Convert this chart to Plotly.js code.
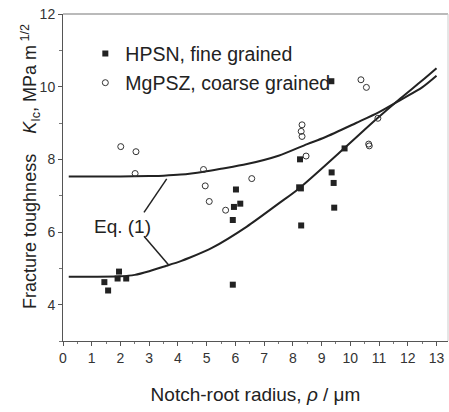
<!DOCTYPE html>
<html>
<head>
<meta charset="utf-8">
<script src="https://cdn.plot.ly/plotly-3.0.1.min.js"></script>
<style>html,body{margin:0;padding:0;background:#fff;}#chart{width:449px;height:412px;}</style>
</head>
<body>
<div id="chart"></div>
<script>
// HPSN, fine grained (filled squares)
const hpsnX = [1.44, 1.57, 1.90, 1.95, 2.20, 5.91, 5.91, 5.95, 6.02, 6.17, 8.22, 8.25, 8.28, 8.29, 9.34, 9.35, 9.42, 9.44, 9.80];
const hpsnY = [4.62, 4.39, 4.72, 4.91, 4.72, 4.55, 6.33, 6.69, 7.17, 6.78, 7.23, 8.00, 7.20, 6.18, 10.15, 7.64, 7.35, 6.67, 8.30];
// MgPSZ, coarse grained (open circles)
const mgpszX = [2.01, 2.54, 2.51, 4.89, 4.95, 5.09, 5.66, 6.57, 8.32, 8.29, 8.32, 8.46, 10.37, 10.56, 10.64, 10.66, 10.96];
const mgpszY = [8.35, 8.21, 7.61, 7.72, 7.27, 6.84, 6.60, 7.47, 8.95, 8.77, 8.63, 8.09, 10.19, 9.98, 8.42, 8.37, 9.13];
// Eq. (1) curves
const upperX = [0.2, 1, 2, 3, 3.5, 4.1, 4.9, 5.5, 6.4, 7.5, 8.5, 9.1, 10.2, 11.0, 11.8, 12.5, 13.0];
const upperY = [7.53, 7.53, 7.53, 7.54, 7.55, 7.58, 7.66, 7.74, 7.87, 8.10, 8.42, 8.60, 9.00, 9.30, 9.66, 9.98, 10.30];
const lowerX = [0.2, 1, 2, 2.5, 3, 3.6, 4.1, 4.4, 5.2, 6.4, 7.5, 8.25, 9.8, 10.9, 11.75, 12.5, 13.0];
const lowerY = [4.77, 4.77, 4.78, 4.82, 4.92, 5.07, 5.20, 5.29, 5.57, 6.15, 6.78, 7.22, 8.31, 9.10, 9.68, 10.17, 10.51];
// labels
const legendNames = ['HPSN, fine grained', 'MgPSZ, coarse grained'];
const xTitle = 'Notch-root radius, <i>\u03c1</i> / \u03bcm';
const yTitle = 'Fracture toughness\u00a0\u00a0\u00a0\u00a0<i>K</i><sub>Ic</sub>, MPa m<sup> 1/2</sup>';
const eqLabel = 'Eq. (1)';

const font = 'Liberation Sans, Arial, sans-serif';
const ink = '#222';

const traces = [
  {x: upperX, y: upperY, mode: 'lines', line: {color: ink, width: 2, shape: 'spline', smoothing: 0.8}, showlegend: false, hoverinfo: 'skip'},
  {x: lowerX, y: lowerY, mode: 'lines', line: {color: ink, width: 2, shape: 'spline', smoothing: 0.8}, showlegend: false, hoverinfo: 'skip'},
  {x: hpsnX, y: hpsnY, mode: 'markers', name: legendNames[0], legend: 'legend',
   marker: {symbol: 'square', size: 6, color: ink, line: {width: 0}}},
  {x: mgpszX, y: mgpszY, mode: 'markers', name: legendNames[1], legend: 'legend2',
   marker: {symbol: 'circle-open', size: 6, color: '#333', line: {width: 1, color: '#333'}}}
];

const legendBase = {
  font: {family: font, size: 19.5, color: ink},
  bgcolor: 'rgba(0,0,0,0)', borderwidth: 0,
  xanchor: 'left', yanchor: 'middle', itemwidth: 30
};

const layout = {
  width: 449, height: 412,
  margin: {l: 63, r: 1, t: 14, b: 71},
  paper_bgcolor: '#fff', plot_bgcolor: '#fff',
  font: {family: font, color: '#333'},
  xaxis: {
    range: [0, 13.4], dtick: 1, tick0: 0,
    showgrid: false, zeroline: false,
    showline: true, linecolor: '#555', linewidth: 1,
    ticks: 'outside', ticklen: 4, tickcolor: '#555',
    minor: {dtick: 0.5, ticks: 'outside', ticklen: 2, tickcolor: '#777', showgrid: false},
    tickfont: {family: font, size: 14, color: '#333'},
    title: {text: xTitle, font: {family: font, size: 19, color: ink}, standoff: 22}
  },
  yaxis: {
    range: [3, 12], tickvals: [4, 6, 8, 10, 12],
    showgrid: false, zeroline: false,
    showline: true, linecolor: '#555', linewidth: 1,
    ticks: 'outside', ticklen: 4, tickcolor: '#555',
    minor: {dtick: 1, ticks: 'outside', ticklen: 3, tickcolor: '#777', showgrid: false},
    tickfont: {family: font, size: 14, color: '#333'}
  },
  legend: Object.assign({}, legendBase, {x: 0.058, y: 0.878}),
  legend2: Object.assign({}, legendBase, {x: 0.058, y: 0.789}),
  shapes: [
    {type: 'line', xref: 'paper', yref: 'paper', x0: 0, x1: 1, y0: 1, y1: 1, line: {color: '#777', width: 1.2}},
    {type: 'line', xref: 'paper', yref: 'paper', x0: 1, x1: 1, y0: 0, y1: 1, line: {color: '#ccc', width: 1}},
    {type: 'line', xref: 'x', yref: 'y', x0: 2.82, y0: 6.54, x1: 3.61, y1: 7.46, line: {color: ink, width: 1.5}},
    {type: 'line', xref: 'x', yref: 'y', x0: 2.82, y0: 5.88, x1: 3.67, y1: 5.10, line: {color: ink, width: 1.5}}
  ],
  annotations: [
    {text: eqLabel, xref: 'x', yref: 'y', x: 2.06, y: 6.15, showarrow: false,
     font: {family: font, size: 19, color: ink}},
    {text: yTitle, xref: 'paper', yref: 'paper', x: -0.086, y: 0.535, textangle: -90,
     showarrow: false, xanchor: 'center', yanchor: 'middle',
     font: {family: font, size: 18, color: ink}}
  ]
};

Plotly.newPlot('chart', traces, layout, {displayModeBar: false, staticPlot: true});
</script>
</body>
</html>
